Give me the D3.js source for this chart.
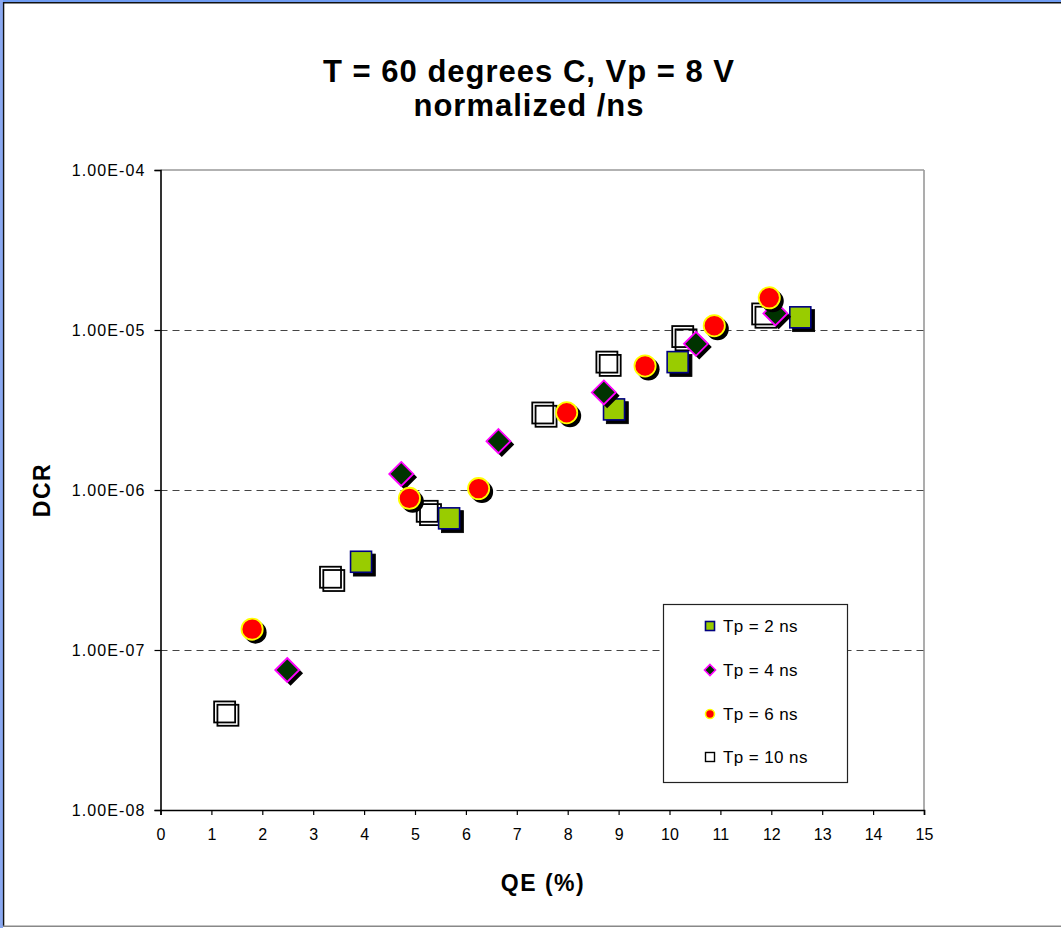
<!DOCTYPE html>
<html>
<head>
<meta charset="utf-8">
<script src="https://cdn.jsdelivr.net/npm/d3@7"></script>
<style>
  html, body { margin: 0; padding: 0; background: #fff; }
  svg { display: block; }
  text { font-family: "Liberation Sans", Arial, sans-serif; fill: #000; }
</style>
</head>
<body>
<script>
// QE (%) and DCR values for each pulse width Tp
const qe2  = [3.94, 5.67, 8.91, 10.16, 12.57];
const dcr2 = [3.56e-7, 6.65e-7, 3.19e-6, 6.3e-6, 1.2e-5];

const qe4  = [2.49, 4.73, 6.64, 8.71, 10.52, 12.08];
const dcr4 = [7.5e-8, 1.26e-6, 2.02e-6, 4.07e-6, 8.2e-6, 1.27e-5];

const qe6  = [1.80, 4.89, 6.25, 7.98, 9.52, 10.88, 11.96];
const dcr6 = [1.35e-7, 8.87e-7, 1.02e-6, 3.04e-6, 5.96e-6, 1.064e-5, 1.59e-5];

const qe10  = [1.26, 3.34, 5.24, 7.51, 8.77, 10.26, 11.83];
const dcr10 = [4.1e-8, 2.85e-7, 7.36e-7, 3.03e-6, 6.3e-6, 9.1e-6, 1.26e-5];

const seriesNames = ["Tp = 2 ns", "Tp = 4 ns", "Tp = 6 ns", "Tp = 10 ns"];
const xTicks = d3.range(0, 16, 1);
const yTicks = [1e-8, 1e-7, 1e-6, 1e-5, 1e-4];
const gridValues = [1e-7, 1e-6, 1e-5];

const W = 1061, H = 928;
const svg = d3.select("body").append("svg").attr("width", W).attr("height", H);

// outer frame
svg.append("rect").attr("x", 0).attr("y", 0).attr("width", W).attr("height", H).attr("fill", "#fff");
svg.append("rect").attr("x", 0).attr("y", 0).attr("width", W).attr("height", 2.2).attr("fill", "#6f9cf2");
svg.append("rect").attr("x", 0).attr("y", 0).attr("width", 3).attr("height", H).attr("fill", "#8aa8f0");
svg.append("line").attr("x1", 3).attr("x2", W).attr("y1", 2.8).attr("y2", 2.8).attr("stroke", "#111").attr("stroke-width", 1.4);
svg.append("line").attr("x1", 3.6).attr("x2", 3.6).attr("y1", 2).attr("y2", 926).attr("stroke", "#111").attr("stroke-width", 1.4);
svg.append("line").attr("x1", 3).attr("x2", W).attr("y1", 926.3).attr("y2", 926.3).attr("stroke", "#888").attr("stroke-width", 1.6);

const plotL = 160.5, plotR = 924, plotT = 170, plotB = 810;
const x = d3.scaleLinear().domain([0, 15]).range([plotL, plotR]);
const y = d3.scaleLog().domain([1e-8, 1e-4]).range([plotB, plotT]);

// plot border (top/right grey)
svg.append("line").attr("x1", plotL).attr("x2", plotR).attr("y1", plotT).attr("y2", plotT).attr("stroke", "#999").attr("stroke-width", 1.6);
svg.append("line").attr("x1", plotR).attr("x2", plotR).attr("y1", plotT).attr("y2", plotB).attr("stroke", "#999").attr("stroke-width", 1.6);

// dashed gridlines
svg.append("g").selectAll("line").data(gridValues).join("line")
  .attr("x1", plotL).attr("x2", plotR)
  .attr("y1", d => Math.round(y(d)) + 0.5).attr("y2", d => Math.round(y(d)) + 0.5)
  .attr("stroke", "#444").attr("stroke-width", 1.2).attr("stroke-dasharray", "7,5");

// axes
const fmtE = d => {
  const e = Math.round(Math.log10(d));
  const sign = e < 0 ? "-" : "+";
  const a = Math.abs(e);
  return "1.00E" + sign + (a < 10 ? "0" + a : a);
};
const yAxis = svg.append("g").attr("transform", `translate(${plotL},0)`)
  .call(d3.axisLeft(y).tickValues(yTicks).tickFormat(fmtE).tickSize(6).tickPadding(9));
const xAxis = svg.append("g").attr("transform", `translate(0,${plotB})`)
  .call(d3.axisBottom(x).tickValues(xTicks).tickFormat(d3.format("d")).tickSize(5).tickPadding(14));
[yAxis, xAxis].forEach(g => {
  g.select(".domain").attr("stroke", "#000").attr("stroke-width", 1.6);
  g.selectAll(".tick line").attr("stroke", "#000").attr("stroke-width", 1.2);
  g.selectAll(".tick text").attr("font-size", 16).attr("font-family", "'Liberation Sans', Arial, sans-serif");
});
yAxis.selectAll(".tick text").attr("letter-spacing", 1.1);

// titles
const title = svg.append("text").attr("text-anchor", "middle").attr("font-weight", "bold")
  .attr("font-size", 31).attr("letter-spacing", 1);
title.append("tspan").attr("x", 529).attr("y", 82).text("T = 60 degrees C, Vp = 8 V");
title.append("tspan").attr("x", 529).attr("y", 116).text("normalized /ns");

svg.append("text").attr("x", 543).attr("y", 891).attr("text-anchor", "middle")
  .attr("font-weight", "bold").attr("font-size", 23).attr("letter-spacing", 1.5).text("QE (%)");
svg.append("text").attr("transform", "translate(50,490) rotate(-90)").attr("text-anchor", "middle")
  .attr("font-weight", "bold").attr("font-size", 23).attr("letter-spacing", 1.5).text("DCR");

// marker drawers
const SH = 3.3; // shadow offset
function squareMark(g, cx, cy, s, fill, stroke, sw) {
  g.append("rect").attr("x", cx - s / 2).attr("y", cy - s / 2).attr("width", s).attr("height", s)
    .attr("fill", fill).attr("stroke", stroke).attr("stroke-width", sw);
}
function diamondPath(cx, cy, r) {
  return `M${cx},${cy - r}L${cx + r},${cy}L${cx},${cy + r}L${cx - r},${cy}Z`;
}

const plot = svg.append("g");

// Tp = 10 ns: open squares with outline shadow
qe10.forEach((q, i) => {
  const cx = x(q), cy = y(dcr10[i]);
  squareMark(plot, cx + SH, cy + SH, 21, "none", "#000", 1.8);
  squareMark(plot, cx, cy, 21, "none", "#000", 1.8);
});
// Tp = 2 ns: green squares
qe2.forEach((q, i) => {
  const cx = x(q), cy = y(dcr2[i]);
  squareMark(plot, cx + SH, cy + SH, 22, "#000", "#000", 0.8);
  squareMark(plot, cx, cy, 21, "#99cc00", "#000080", 1.6);
});
// Tp = 4 ns: diamonds
qe4.forEach((q, i) => {
  const cx = x(q), cy = y(dcr4[i]);
  plot.append("path").attr("d", diamondPath(cx + SH, cy + SH, 12.5)).attr("fill", "#000");
  plot.append("path").attr("d", diamondPath(cx, cy, 12)).attr("fill", "#003300")
    .attr("stroke", "#ff00ff").attr("stroke-width", 1.8);
});
// Tp = 6 ns: red circles
qe6.forEach((q, i) => {
  const cx = x(q), cy = y(dcr6[i]);
  plot.append("circle").attr("cx", cx + SH).attr("cy", cy + SH).attr("r", 11.2).attr("fill", "#000");
  plot.append("circle").attr("cx", cx).attr("cy", cy).attr("r", 10.6).attr("fill", "#ff0000")
    .attr("stroke", "#ffff00").attr("stroke-width", 1.8);
});

// legend
const lg = svg.append("g");
lg.append("rect").attr("x", 663.5).attr("y", 604.5).attr("width", 184).attr("height", 178)
  .attr("fill", "#fff").attr("stroke", "#222").attr("stroke-width", 1.2);
const ly = [626, 670, 714, 757];
const mx = 710;
squareMark(lg, mx, ly[0], 9, "#99cc00", "#000080", 1.6);
lg.append("path").attr("d", diamondPath(mx, ly[1], 5.5)).attr("fill", "#003300").attr("stroke", "#ff00ff").attr("stroke-width", 1.6);
lg.append("circle").attr("cx", mx).attr("cy", ly[2]).attr("r", 4.5).attr("fill", "#ff0000").attr("stroke", "#ffff00").attr("stroke-width", 1.6);
squareMark(lg, mx, ly[3], 9, "none", "#000", 1.4);
lg.selectAll("text.lab").data(seriesNames).join("text").attr("class", "lab")
  .attr("x", 723).attr("y", (d, i) => ly[i] + 6.3)
  .attr("font-size", 17).attr("letter-spacing", 0.4).text(d => d);
</script>
</body>
</html>
